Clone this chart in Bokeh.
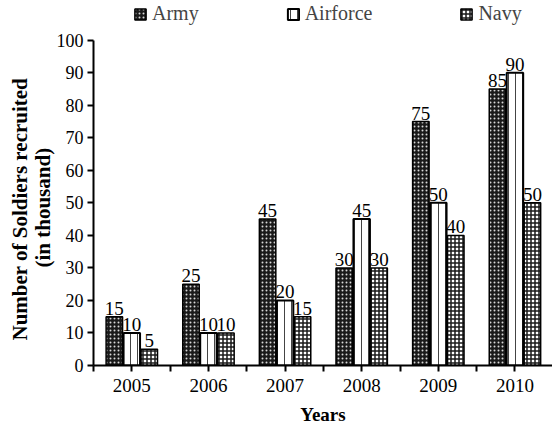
from bokeh.plotting import figure
from bokeh.models import ColumnDataSource, FixedTicker, Legend, LegendItem, LabelSet, Title
from bokeh.transform import dodge
from bokeh.embed import file_html
from bokeh.resources import INLINE

years = ["2005", "2006", "2007", "2008", "2009", "2010"]
army = [15, 25, 45, 30, 75, 85]
airforce = [10, 10, 20, 45, 50, 90]
navy = [5, 10, 15, 30, 40, 50]

xs = list(range(len(years)))
src = ColumnDataSource(dict(x=xs, army=army, airforce=airforce, navy=navy,
                            army_t=[str(v) for v in army],
                            airforce_t=[str(v) for v in airforce],
                            navy_t=[str(v) for v in navy]))

FONT = "Liberation Serif"

p = figure(width=552, height=427, output_backend="svg", toolbar_location=None,
           x_range=(-0.5, 5.49), y_range=(0, 112.2),
           min_border_left=93, min_border_right=0, min_border_top=0, min_border_bottom=60)
p.outline_line_color = None
p.grid.grid_line_color = None
p.background_fill_color = "white"

off = 0.228
w = 0.215
r_army = p.vbar(x=dodge("x", -off), top="army", width=w, source=src,
                fill_color="#1a1a1a", line_color="black", line_width=1.5,
                hatch_pattern="dot", hatch_color="#d8d8d8", hatch_scale=4, hatch_weight=1)
r_air = p.vbar(x=dodge("x", 0), top="airforce", width=w, source=src,
               fill_color="white", line_color="black", line_width=2,
               hatch_pattern="vertical_line", hatch_color="#444444", hatch_scale=7, hatch_weight=1)
r_navy = p.vbar(x=dodge("x", off), top="navy", width=w, source=src,
                fill_color="white", line_color="black", line_width=1.5,
                hatch_pattern="cross", hatch_color="#1a1a1a", hatch_scale=4, hatch_weight=1.5)

for col, dx in (("army", -off), ("airforce", 0), ("navy", off)):
    ls = LabelSet(x=dodge("x", dx), y=col, text=col + "_t", source=src,
                  text_align="center", text_baseline="bottom", y_offset=2,
                  text_font=FONT, text_font_size="19px", text_color="black")
    p.add_layout(ls)

ticks = [i * 0.5 - 0.5 for i in range(12)]
p.xaxis.ticker = FixedTicker(ticks=ticks)
p.xaxis.major_label_overrides = {t: (years[int(t)] if float(t).is_integer() else "") for t in ticks}
p.yaxis.ticker = FixedTicker(ticks=list(range(0, 101, 10)))
p.yaxis.bounds = (0, 100)

for ax in (p.xaxis, p.yaxis):
    ax.axis_line_width = 2
    ax.axis_line_color = "black"
    ax.major_tick_line_width = 2
    ax.major_tick_line_color = "black"
    ax.major_tick_in = 0
    ax.major_tick_out = 6
    ax.minor_tick_line_color = None
    ax.major_label_text_font = FONT
    ax.major_label_text_color = "black"
    ax.major_label_text_line_height = 1.0
    ax.axis_label_text_font = FONT
    ax.axis_label_text_font_style = "bold"
    ax.axis_label_text_color = "black"
    ax.axis_label_text_line_height = 1.0

p.xaxis.major_label_text_font_size = "19px"
p.yaxis.major_label_text_font_size = "18px"
p.xaxis.major_label_standoff = 7
p.yaxis.major_label_standoff = 4
p.xaxis.axis_label = "Years"
p.xaxis.axis_label_text_font_size = "19px"
p.xaxis.axis_label_standoff = 9

for txt, offs, sto in (("(in thousand)", 98, -3), ("Number of Soldiers recruited", 25, -2)):
    p.add_layout(Title(text=txt, align="left", offset=offs, standoff=sto,
                       text_font=FONT, text_font_style="bold", text_font_size="21px",
                       text_color="black", text_line_height=1.0), "left")

legend = Legend(items=[LegendItem(label="Army", renderers=[r_army]),
                       LegendItem(label="Airforce", renderers=[r_air]),
                       LegendItem(label="Navy", renderers=[r_navy])],
                orientation="horizontal", location=(40, 340),
                label_text_font=FONT, label_text_font_size="20px",
                glyph_width=14, glyph_height=14, label_standoff=5, spacing=87,
                padding=0, margin=0, border_line_color=None,
                background_fill_alpha=0)
p.add_layout(legend)

open("out.html", "w").write(file_html(p, INLINE))
